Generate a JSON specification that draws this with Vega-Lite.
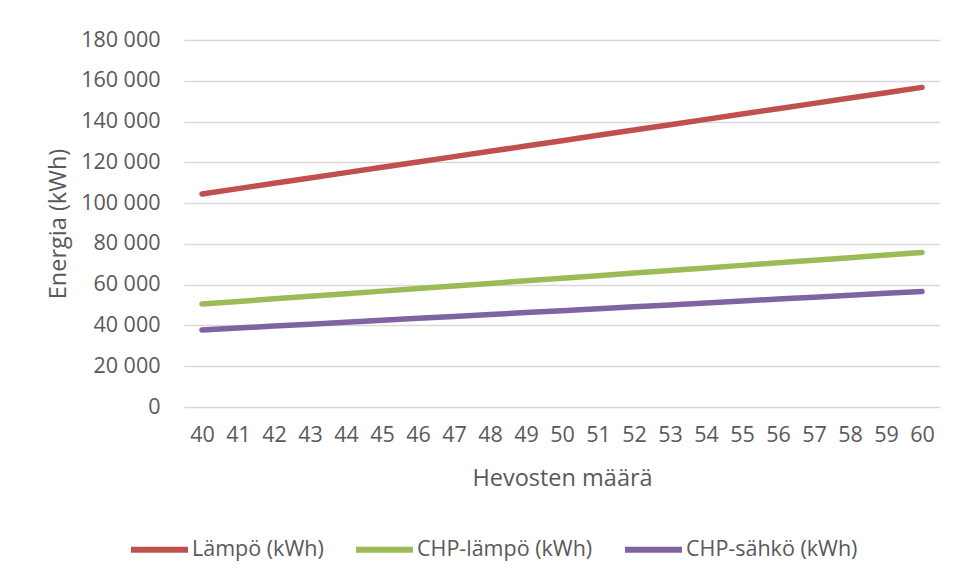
{
  "$schema": "https://vega.github.io/schema/vega-lite/v6.json",
  "autosize": {"type": "none"},
  "width": 756,
  "height": 367,
  "padding": {"left": 184, "top": 40, "right": 17, "bottom": 174},
  "background": "white",
  "config": {
    "view": {"stroke": null},
    "font": "Open Sans",
    "axis": {"labelColor": "#595959", "titleColor": "#595959", "labelFont": "Open Sans", "titleFont": "Open Sans", "titleFontWeight": "normal"}
  },
  "data": {"values": [
    {"n": 40, "s": "Lämpö (kWh)", "v": 104500},
    {"n": 41, "s": "Lämpö (kWh)", "v": 107113},
    {"n": 42, "s": "Lämpö (kWh)", "v": 109725},
    {"n": 43, "s": "Lämpö (kWh)", "v": 112338},
    {"n": 44, "s": "Lämpö (kWh)", "v": 114950},
    {"n": 45, "s": "Lämpö (kWh)", "v": 117563},
    {"n": 46, "s": "Lämpö (kWh)", "v": 120175},
    {"n": 47, "s": "Lämpö (kWh)", "v": 122788},
    {"n": 48, "s": "Lämpö (kWh)", "v": 125400},
    {"n": 49, "s": "Lämpö (kWh)", "v": 128013},
    {"n": 50, "s": "Lämpö (kWh)", "v": 130625},
    {"n": 51, "s": "Lämpö (kWh)", "v": 133238},
    {"n": 52, "s": "Lämpö (kWh)", "v": 135850},
    {"n": 53, "s": "Lämpö (kWh)", "v": 138463},
    {"n": 54, "s": "Lämpö (kWh)", "v": 141075},
    {"n": 55, "s": "Lämpö (kWh)", "v": 143688},
    {"n": 56, "s": "Lämpö (kWh)", "v": 146300},
    {"n": 57, "s": "Lämpö (kWh)", "v": 148913},
    {"n": 58, "s": "Lämpö (kWh)", "v": 151525},
    {"n": 59, "s": "Lämpö (kWh)", "v": 154138},
    {"n": 60, "s": "Lämpö (kWh)", "v": 156750},
    {"n": 40, "s": "CHP-lämpö (kWh)", "v": 50520},
    {"n": 41, "s": "CHP-lämpö (kWh)", "v": 51783},
    {"n": 42, "s": "CHP-lämpö (kWh)", "v": 53046},
    {"n": 43, "s": "CHP-lämpö (kWh)", "v": 54309},
    {"n": 44, "s": "CHP-lämpö (kWh)", "v": 55572},
    {"n": 45, "s": "CHP-lämpö (kWh)", "v": 56835},
    {"n": 46, "s": "CHP-lämpö (kWh)", "v": 58098},
    {"n": 47, "s": "CHP-lämpö (kWh)", "v": 59361},
    {"n": 48, "s": "CHP-lämpö (kWh)", "v": 60624},
    {"n": 49, "s": "CHP-lämpö (kWh)", "v": 61887},
    {"n": 50, "s": "CHP-lämpö (kWh)", "v": 63150},
    {"n": 51, "s": "CHP-lämpö (kWh)", "v": 64413},
    {"n": 52, "s": "CHP-lämpö (kWh)", "v": 65676},
    {"n": 53, "s": "CHP-lämpö (kWh)", "v": 66939},
    {"n": 54, "s": "CHP-lämpö (kWh)", "v": 68202},
    {"n": 55, "s": "CHP-lämpö (kWh)", "v": 69465},
    {"n": 56, "s": "CHP-lämpö (kWh)", "v": 70728},
    {"n": 57, "s": "CHP-lämpö (kWh)", "v": 71991},
    {"n": 58, "s": "CHP-lämpö (kWh)", "v": 73254},
    {"n": 59, "s": "CHP-lämpö (kWh)", "v": 74517},
    {"n": 60, "s": "CHP-lämpö (kWh)", "v": 75780},
    {"n": 40, "s": "CHP-sähkö (kWh)", "v": 37800},
    {"n": 41, "s": "CHP-sähkö (kWh)", "v": 38745},
    {"n": 42, "s": "CHP-sähkö (kWh)", "v": 39690},
    {"n": 43, "s": "CHP-sähkö (kWh)", "v": 40635},
    {"n": 44, "s": "CHP-sähkö (kWh)", "v": 41580},
    {"n": 45, "s": "CHP-sähkö (kWh)", "v": 42525},
    {"n": 46, "s": "CHP-sähkö (kWh)", "v": 43470},
    {"n": 47, "s": "CHP-sähkö (kWh)", "v": 44415},
    {"n": 48, "s": "CHP-sähkö (kWh)", "v": 45360},
    {"n": 49, "s": "CHP-sähkö (kWh)", "v": 46305},
    {"n": 50, "s": "CHP-sähkö (kWh)", "v": 47250},
    {"n": 51, "s": "CHP-sähkö (kWh)", "v": 48195},
    {"n": 52, "s": "CHP-sähkö (kWh)", "v": 49140},
    {"n": 53, "s": "CHP-sähkö (kWh)", "v": 50085},
    {"n": 54, "s": "CHP-sähkö (kWh)", "v": 51030},
    {"n": 55, "s": "CHP-sähkö (kWh)", "v": 51975},
    {"n": 56, "s": "CHP-sähkö (kWh)", "v": 52920},
    {"n": 57, "s": "CHP-sähkö (kWh)", "v": 53865},
    {"n": 58, "s": "CHP-sähkö (kWh)", "v": 54810},
    {"n": 59, "s": "CHP-sähkö (kWh)", "v": 55755},
    {"n": 60, "s": "CHP-sähkö (kWh)", "v": 56700}
  ]},
  "mark": {"type": "line", "strokeWidth": 5.5, "strokeCap": "round", "strokeJoin": "round"},
  "encoding": {
    "x": {
      "field": "n", "type": "ordinal", "title": "Hevosten määrä",
      "axis": {"labelAngle": 0, "ticks": false, "domain": false, "grid": false, "labelFontSize": 21.5, "labelPadding": 17, "titleFontSize": 23.5, "titlePadding": 21}
    },
    "y": {
      "field": "v", "type": "quantitative", "title": "Energia (kWh)",
      "scale": {"domain": [0, 180000], "nice": false},
      "axis": {"values": [0, 20000, 40000, 60000, 80000, 100000, 120000, 140000, 160000, 180000], "labelExpr": "replace(format(datum.value, ','), /,/g, ' ')", "ticks": false, "domain": false, "gridColor": "#D9D9D9", "gridWidth": 1.5, "labelFontSize": 21.5, "labelPadding": 24, "titleFontSize": 23.5, "titlePadding": 10}
    },
    "color": {
      "field": "s", "type": "nominal", "title": null,
      "scale": {"domain": ["Lämpö (kWh)", "CHP-lämpö (kWh)", "CHP-sähkö (kWh)"], "range": ["#C0504D", "#9BBB59", "#8064A2"]},
      "legend": {"orient": "none", "legendX": -56, "legendY": 478, "direction": "horizontal", "symbolType": "stroke", "symbolSize": 3249, "symbolStrokeWidth": 6, "labelFontSize": 21.5, "labelColor": "#595959", "labelFont": "Open Sans", "labelOffset": 1, "columnPadding": 20, "labelLimit": 300}
    }
  }
}
